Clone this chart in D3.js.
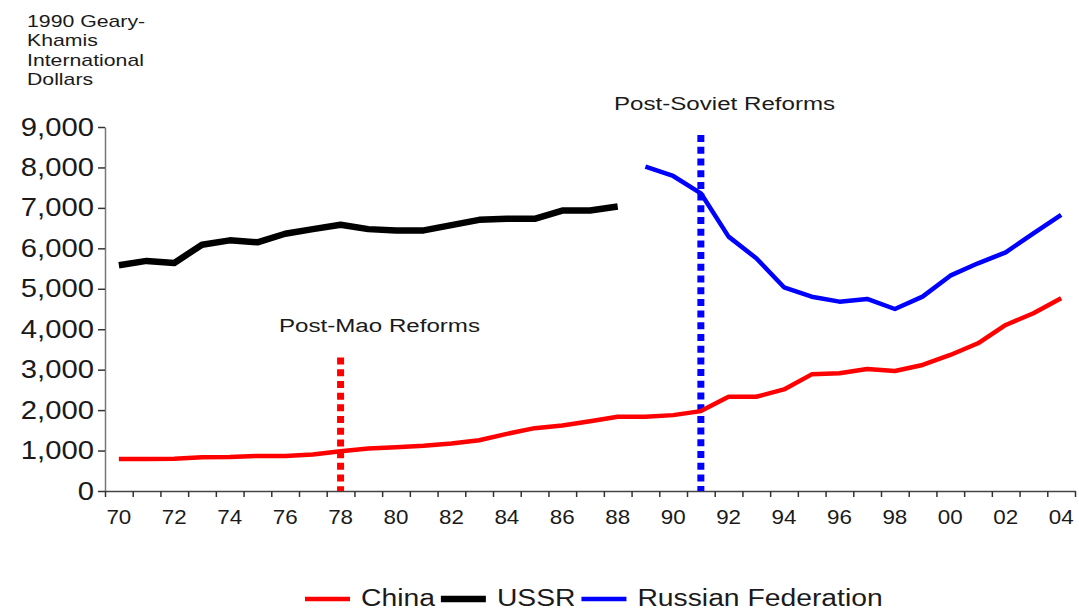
<!DOCTYPE html>
<html>
<head>
<meta charset="utf-8">
<script src="https://cdn.jsdelivr.net/npm/d3@7/dist/d3.min.js"></script>
<style>
  body { margin: 0; background: #fff; }
  text { font-family: "Liberation Sans", Arial, sans-serif; fill: #1a1a1a; }
</style>
</head>
<body>
<svg id="chart" width="1079" height="612"></svg>
<script>
// GDP per capita, 1990 Geary-Khamis international dollars
const chinaYears = [1970, 1971, 1972, 1973, 1974, 1975, 1976, 1977, 1978, 1979,
                    1980, 1981, 1982, 1983, 1984, 1985, 1986, 1987, 1988, 1989,
                    1990, 1991, 1992, 1993, 1994, 1995, 1996, 1997, 1998, 1999,
                    2000, 2001, 2002, 2003, 2004]
const chinaValues = [793, 793, 800, 835, 843, 868, 868, 900, 983, 1050,
                     1083, 1116, 1174, 1256, 1413, 1554, 1620, 1727, 1835, 1835,
                     1876, 1975, 2330, 2330, 2512, 2884, 2909, 3017, 2967, 3116,
                     3363, 3652, 4105, 4394, 4765]

const ussrYears = [1970, 1971, 1972, 1973, 1974, 1975, 1976, 1977, 1978, 1979,
                   1980, 1981, 1982, 1983, 1984, 1985, 1986, 1987, 1988]
const ussrValues = [5582, 5689, 5639, 6090, 6197, 6148, 6361, 6475, 6582, 6475,
                    6443, 6443, 6574, 6705, 6730, 6730, 6934, 6934, 7033]

const russiaYears = [1989, 1990, 1991, 1992, 1993, 1994, 1995, 1996, 1997, 1998,
                     1999, 2000, 2001, 2002, 2003, 2004]
const russiaValues = [8020, 7789, 7361, 6289, 5754, 5037, 4805, 4682, 4748, 4500,
                      4805, 5324, 5630, 5902, 6371, 6825]

const seriesNames = ["China", "USSR", "Russian Federation"]

const reformLabels = ["Post-Mao Reforms", "Post-Soviet Reforms"]
const reformYears = [1978, 1991]
const reformTops = [3300, 8800]

const yTickValues = [0, 1000, 2000, 3000, 4000, 5000, 6000, 7000, 8000, 9000]
const xLabelYears = [1970, 1972, 1974, 1976, 1978, 1980, 1982, 1984, 1986, 1988,
                     1990, 1992, 1994, 1996, 1998, 2000, 2002, 2004]
const unitLines = ["1990 Geary-", "Khamis", "International", "Dollars"]

const svg = d3.select("#chart")

const x = d3.scaleLinear().domain([1969.5, 2004.5]).range([105, 1075])
const y = d3.scaleLinear().domain([0, 9000]).range([491, 127])

const seriesColors = ["#ff0000", "#000000", "#0000ff"]
const seriesWidths = [4.5, 6.5, 4.5]

// unit caption, top left
const unit = svg.append("g").attr("transform", "translate(27,27) scale(1.25,1)")
unit.selectAll("text")
    .data(unitLines)
    .enter().append("text")
    .attr("y", (d, i) => i * 19.3)
    .attr("font-size", 17)
    .text(d => d)

// y axis
const yAxis = svg.append("g")
    .attr("transform", "translate(" + x.range()[0] + ",0)")
    .call(d3.axisLeft(y).tickValues(yTickValues).tickSize(7).tickSizeOuter(0)
        .tickFormat(d3.format(",")))
yAxis.select(".domain").attr("stroke", "#777").attr("stroke-width", 1.5)
yAxis.selectAll(".tick line").attr("stroke", "#333").attr("stroke-width", 1.5)
yAxis.selectAll(".tick text")
    .attr("font-size", 25)
    .attr("fill", "#1a1a1a")
    .attr("x", -11 / 1.17)
    .attr("transform", "scale(1.17,1)")

// x axis: ticks between years, labels every second year
const xTickValues = d3.range(x.domain()[0], x.domain()[1] + 0.01, 1)
const xAxis = svg.append("g")
    .attr("transform", "translate(0," + y(0) + ")")
    .call(d3.axisBottom(x).tickValues(xTickValues).tickSize(6).tickSizeOuter(0)
        .tickFormat(""))
xAxis.select(".domain").attr("stroke", "#444").attr("stroke-width", 1.5)
xAxis.selectAll(".tick line").attr("stroke", "#333").attr("stroke-width", 1.5)

svg.append("g").selectAll("text")
    .data(xLabelYears)
    .enter().append("text")
    .attr("transform", d => "translate(" + x(d) + ",524) scale(1.12,1)")
    .attr("text-anchor", "middle")
    .attr("font-size", 20)
    .text(d => String(d).slice(2))

// reform markers
const reformColors = ["#ff0000", "#0000ff"]
svg.append("g").selectAll("line")
    .data(reformYears)
    .enter().append("line")
    .attr("x1", d => x(d))
    .attr("x2", d => x(d))
    .attr("y1", (d, i) => y(reformTops[i]))
    .attr("y2", y(0))
    .attr("stroke", (d, i) => reformColors[i])
    .attr("stroke-width", 7)
    .attr("stroke-dasharray", "7,4.7")

const reformTextPos = [[279, 332], [614, 110]]
svg.append("g").selectAll("text")
    .data(reformLabels)
    .enter().append("text")
    .attr("transform", (d, i) => "translate(" + reformTextPos[i][0] + "," + reformTextPos[i][1] + ") scale(1.27,1)")
    .attr("font-size", 19)
    .text(d => d)

// series lines
const line = d3.line().x(d => x(d[0])).y(d => y(d[1]))
const series = [
    d3.zip(chinaYears, chinaValues),
    d3.zip(ussrYears, ussrValues),
    d3.zip(russiaYears, russiaValues)
]
svg.append("g").selectAll("path")
    .data(series)
    .enter().append("path")
    .attr("d", line)
    .attr("fill", "none")
    .attr("stroke", (d, i) => seriesColors[i])
    .attr("stroke-width", (d, i) => seriesWidths[i])
    .attr("stroke-linejoin", "round")

// legend
const legend = svg.append("g")
let lx = 305
seriesNames.forEach(function(name, i) {
    legend.append("line")
        .attr("x1", lx).attr("x2", lx + 45)
        .attr("y1", 599).attr("y2", 599)
        .attr("stroke", seriesColors[i])
        .attr("stroke-width", seriesWidths[i])
    const t = legend.append("text")
        .attr("transform", "translate(" + (lx + 56) + ",606) scale(1.23,1)")
        .attr("font-size", 23)
        .text(name)
    lx = lx + 56 + t.node().getComputedTextLength() * 1.23 + 6
})
</script>
</body>
</html>
